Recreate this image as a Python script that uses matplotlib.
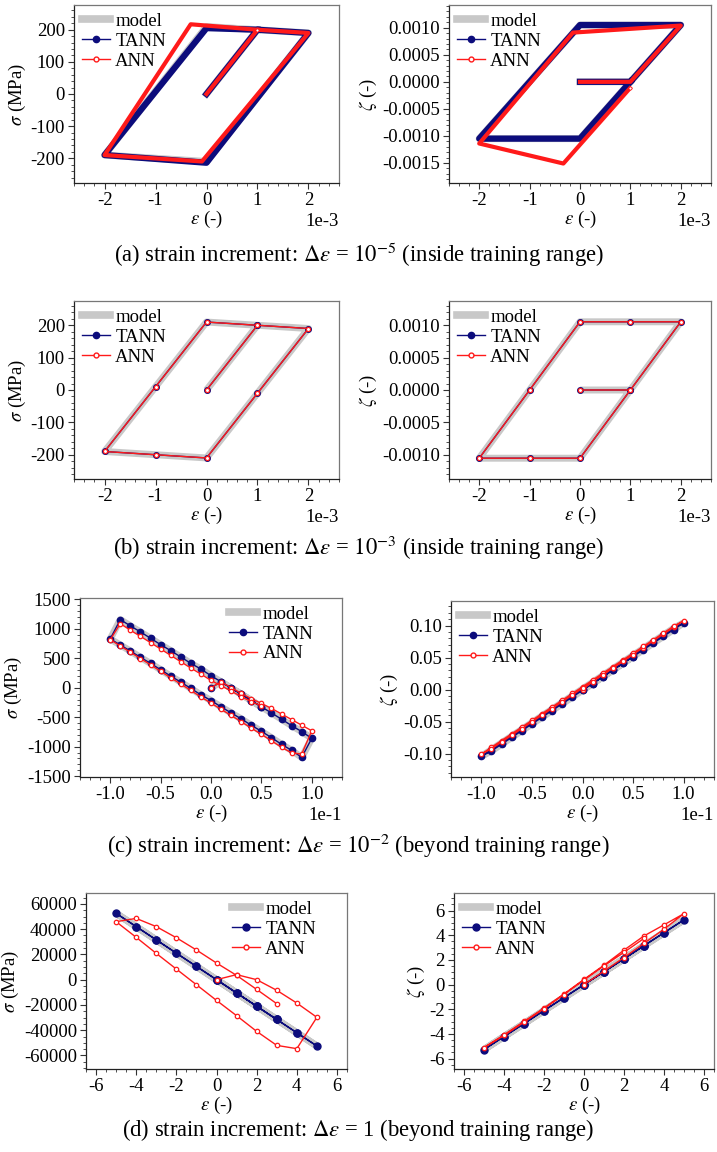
import matplotlib
matplotlib.use('Agg')
import matplotlib.pyplot as plt
from matplotlib.lines import Line2D
from matplotlib.ticker import AutoMinorLocator, MultipleLocator

plt.rcParams['font.family'] = ['Liberation Serif', 'DejaVu Serif']
plt.rcParams['mathtext.fontset'] = 'stix'
plt.rcParams['axes.unicode_minus'] = False

# ---------------- (a) strain increment 1e-5 (path vertices) ----------------
a_eps_model = [0, 1e-3, 2e-3, 1e-3, 0, -1e-3, -2e-3, -1e-3, 0, 1e-3]
a_sig_model = [0, 200, 190, -10, -210, -200, -190, 10, 210, 200]
a_zet_model = [0, 0, 1.05e-3, 1.05e-3, 1.05e-3, 0, -1.05e-3, -1.05e-3, -1.05e-3, 0]

a_eps_tann = [0, 1e-3, 2e-3, 0, -2e-3, 0, 1e-3]
a_sig_tann = [0, 200, 190, -214, -190, 205, 200]
a_eps_tann_z = [0, 1e-3, 2e-3, 0, -2e-3, 0, 1e-3]
a_zet_tann = [0, 0, 1.05e-3, 1.05e-3, -1.05e-3, -1.05e-3, 0]

a_eps_ann = [0, 1e-3, 2e-3, -0.09e-3, -2e-3, -0.31e-3, 1e-3]
a_sig_ann = [0, 200, 190, -210, -190, 217, 200]
a_eps_ann_z = [0, 1e-3, 2e-3, -0.14e-3, -2e-3, -0.33e-3, 0.99e-3]
a_zet_ann = [0, 0, 1.04e-3, 0.91e-3, -1.14e-3, -1.51e-3, -0.12e-3]

# ---------------- (b) strain increment 1e-3 ----------------
b_eps = [0, 1e-3, 2e-3, 1e-3, 0, -1e-3, -2e-3, -1e-3, 0, 1e-3]
b_sig_model = [0, 200, 190, -10, -210, -200, -190, 10, 210, 200]
b_sig_tann = [0, 200, 190, -10, -210, -200, -190, 10, 210, 200]
b_sig_ann = [0, 200, 190, -10, -210, -200, -190, 10, 210, 200]
b_zet_model = [0, 0, 1.05e-3, 1.05e-3, 1.05e-3, 0, -1.05e-3, -1.05e-3, -1.05e-3, 0]
b_zet_tann = [0, 0, 1.05e-3, 1.05e-3, 1.05e-3, 0, -1.05e-3, -1.05e-3, -1.05e-3, 0]
b_zet_ann = [0, 0, 1.05e-3, 1.05e-3, 1.05e-3, 0, -1.05e-3, -1.05e-3, -1.05e-3, 0]

# ---------------- (c) strain increment 1e-2 ----------------
c_eps = [0.00, 0.01, 0.02, 0.03, 0.04, 0.05, 0.06, 0.07, 0.08, 0.09, 0.10,
         0.09, 0.08, 0.07, 0.06, 0.05, 0.04, 0.03, 0.02, 0.01, 0.00,
         -0.01, -0.02, -0.03, -0.04, -0.05, -0.06, -0.07, -0.08, -0.09, -0.10,
         -0.09, -0.08, -0.07, -0.06, -0.05, -0.04, -0.03, -0.02, -0.01, 0.00,
         0.01, 0.02, 0.03, 0.04, 0.05]
c_sig_model = [0, 102, -6, -108, -216, -324, -426, -534, -642, -744, -858,
               -1182, -1062, -960, -847, -739, -636, -528, -426, -324, -216,
               -119, -11, 97, 199, 307, 415, 517, 625, 727, 830,
               1159, 1051, 949, 841, 733, 631, 523, 415, 318, 205,
               102, -6, -108, -216, -324]
c_sig_tann = [0, 102, -6, -108, -216, -324, -426, -534, -642, -744, -858,
              -1182, -1062, -960, -847, -739, -636, -528, -426, -324, -216,
              -119, -11, 97, 199, 307, 415, 517, 625, 727, 830,
              1159, 1051, 949, 841, 733, 631, 523, 415, 318, 205,
              102, -6, -108, -216, -324]
c_sig_ann = [0, 100, 5, -95, -185, -265, -350, -445, -540, -635, -730,
             -1125, -1105, -1010, -900, -790, -685, -575, -470, -365, -260,
             -155, -45, 65, 170, 280, 392, 497, 605, 710, 818,
             1090, 977, 874, 767, 659, 551, 443, 335, 233, 125,
             35, -55, -150, -235, -310]
c_zet_model = [0, 0.0095, 0.0200, 0.0305, 0.0411, 0.0516, 0.0621, 0.0727, 0.0832, 0.0937, 0.1043,
               0.0959, 0.0853, 0.0748, 0.0642, 0.0537, 0.0432, 0.0326, 0.0221, 0.0116, 0.0011,
               -0.0094, -0.0199, -0.0305, -0.0410, -0.0515, -0.0621, -0.0726, -0.0831, -0.0936, -0.1042,
               -0.0958, -0.0853, -0.0747, -0.0642, -0.0537, -0.0432, -0.0326, -0.0221, -0.0116, -0.0010,
               0.0095, 0.0200, 0.0305, 0.0411, 0.0516]
c_zet_tann = [0, 0.0095, 0.0200, 0.0305, 0.0411, 0.0516, 0.0621, 0.0727, 0.0832, 0.0937, 0.1043,
              0.0959, 0.0853, 0.0748, 0.0642, 0.0537, 0.0432, 0.0326, 0.0221, 0.0116, 0.0011,
              -0.0094, -0.0199, -0.0305, -0.0410, -0.0515, -0.0621, -0.0726, -0.0831, -0.0936, -0.1042,
              -0.0958, -0.0853, -0.0747, -0.0642, -0.0537, -0.0432, -0.0326, -0.0221, -0.0116, -0.0010,
              0.0095, 0.0200, 0.0305, 0.0411, 0.0516]
c_zet_ann = [0, 0.0125, 0.0235, 0.0340, 0.0446, 0.0551, 0.0656, 0.0762, 0.0867, 0.0972, 0.1078,
             0.0990, 0.0885, 0.0780, 0.0675, 0.0570, 0.0465, 0.0360, 0.0255, 0.0150, 0.0045,
             -0.0060, -0.0165, -0.0270, -0.0375, -0.0480, -0.0585, -0.0690, -0.0795, -0.0900, -0.1008,
             -0.0925, -0.0820, -0.0715, -0.0610, -0.0505, -0.0400, -0.0295, -0.0190, -0.0085, 0.0022,
             0.0127, 0.0232, 0.0337, 0.0442, 0.0547]

# ---------------- (d) strain increment 1 ----------------
d_eps = [0, 1, 2, 3, 4, 5, 4, 3, 2, 1, 0, -1, -2, -3, -4, -5, -4, -3, -2, -1, 0, 1, 2, 3]
d_sig_model = [0, -10500, -21000, -31500, -42000, -52500, -42000, -31500, -21000, -10500, 0,
               10500, 21000, 31500, 42000, 52500, 42000, 31500, 21000, 10500, 0, -10500, -21000, -31500]
d_sig_tann = [0, -10500, -21000, -31500, -42000, -52500, -42000, -31500, -21000, -10500, 0,
              10500, 21000, 31500, 42000, 52500, 42000, 31500, 21000, 10500, 0, -10500, -21000, -31500]
d_sig_ann = [0, 4000, 0, -8400, -18500, -29800, -54600, -52000, -40900, -28500, -16400,
             -4000, 8400, 20800, 33500, 45900, 48500, 42000, 33200, 23500, 13200, 3400, -7700, -19000]
d_zet_model = [0, 1.05, 2.1, 3.16, 4.21, 5.26, 4.21, 3.16, 2.1, 1.05, 0, -1.05, -2.1, -3.16, -4.21,
               -5.26, -4.21, -3.16, -2.1, -1.05, 0, 1.05, 2.1, 3.16]
d_zet_tann = [0, 1.05, 2.1, 3.16, 4.21, 5.26, 4.21, 3.16, 2.1, 1.05, 0, -1.05, -2.1, -3.16, -4.21,
              -5.26, -4.21, -3.16, -2.1, -1.05, 0, 1.05, 2.1, 3.16]
d_zet_ann = [0, 1.1, 2.2, 3.35, 4.5, 5.76, 4.85, 3.95, 2.8, 1.58, 0.43, -0.75, -1.9, -2.98, -4.07,
             -5.1, -4.12, -3.05, -1.95, -0.8, 0.38, 1.52, 2.62, 3.75]

captions = [
    r'(a) strain increment: $\Delta\varepsilon$ = $10^{-5}$ (inside training range)',
    r'(b) strain increment: $\Delta\varepsilon$ = $10^{-3}$ (inside training range)',
    r'(c) strain increment: $\Delta\varepsilon$ = $10^{-2}$ (beyond training range)',
    r'(d) strain increment: $\Delta\varepsilon$ = 1 (beyond training range)',
]

GRAY = '#c8c8c8'
NAVY = '#0c0c7c'
RED = '#ff1a1a'
FS = 13.5
CAP_FS = 16.3

W, H = 717, 1152
fig = plt.figure(figsize=(W / 100, H / 100), dpi=100)


def add_ax(x0, x1, ytop, ybot):
    return fig.add_axes([x0 / W, 1 - ybot / H, (x1 - x0) / W, (ybot - ytop) / H])


def style(ax, xlim, ylim, xstep, ystep, ylabel, sci_x=False):
    ax.set_xlim(*xlim)
    ax.set_ylim(*ylim)
    ax.xaxis.set_major_locator(MultipleLocator(xstep))
    ax.yaxis.set_major_locator(MultipleLocator(ystep))
    ax.xaxis.set_minor_locator(AutoMinorLocator())
    ax.yaxis.set_minor_locator(AutoMinorLocator())
    if sci_x:
        ax.ticklabel_format(axis='x', style='sci', scilimits=(0, 0))
    ax.xaxis.get_offset_text().set_fontsize(FS)
    ax.tick_params(which='both', direction='out', top=False, right=False,
                   labelsize=FS, color='#333333', pad=2.5)
    ax.tick_params(which='major', length=4, width=0.8)
    ax.tick_params(which='minor', length=2.2, width=0.6)
    for s in ['left', 'bottom']:
        ax.spines[s].set_color('#222222')
        ax.spines[s].set_linewidth(0.9)
    for s in ['top', 'right']:
        ax.spines[s].set_color('#777777')
        ax.spines[s].set_linewidth(0.9)
    ax.set_xlabel(r'$\varepsilon$ (-)', fontsize=FS, labelpad=0)
    ax.set_ylabel(ylabel, fontsize=FS, labelpad=2)


def legend(ax, loc, anchor=None, ms_t=4.5, ms_a=3.5):
    handles = [
        Line2D([], [], color=GRAY, lw=5.5),
        Line2D([], [], color=NAVY, lw=1.0, marker='o', ms=ms_t),
        Line2D([], [], color=RED, lw=1.0, marker='o', ms=ms_a, mfc='white', mec=RED),
    ]
    kw = dict(loc=loc, frameon=False, fontsize=FS, handlelength=1.5,
              handletextpad=0.3, labelspacing=0.15, borderaxespad=0.2, borderpad=0.2)
    if anchor is not None:
        kw['bbox_to_anchor'] = anchor
    ax.legend(handles, ['model', 'TANN', 'ANN'], **kw)


def plot_series(ax, x_m, y_m, x_t, y_t, x_a, y_a, ms_t=4.5, ms_a=3.5, lw_m=5):
    ax.plot(x_m, y_m, color=GRAY, lw=lw_m, solid_capstyle='butt', zorder=1)
    ax.plot(x_t, y_t, color=NAVY, lw=1.0, marker='o', ms=ms_t, zorder=2)
    ax.plot(x_a, y_a, color=RED, lw=1.0, marker='o', ms=ms_a, mfc='white', mec=RED,
            mew=0.9, zorder=3)


# ---- row (a): dense increments drawn as thick bands ----
ax = add_ax(74, 339, 5, 183)
ax.plot(a_eps_model, a_sig_model, color=GRAY, lw=5, zorder=1)
ax.plot(a_eps_tann, a_sig_tann, color=NAVY, lw=4.5, zorder=2, solid_joinstyle='round')
ax.plot(a_eps_ann, a_sig_ann, color=RED, lw=3.0, zorder=3, solid_joinstyle='round')
ax.plot(a_eps_ann[-1:], a_sig_ann[-1:], 'o', ms=2.2, mfc='white', mec=RED, mew=0.6, zorder=4)
style(ax, (-2.6e-3, 2.6e-3), (-277, 277), 1e-3, 100, r'$\sigma$ (MPa)', sci_x=True)
legend(ax, 'upper left')

ax = add_ax(449, 711, 5, 183)
ax.plot(a_eps_model, a_zet_model, color=GRAY, lw=5, zorder=1)
ax.plot(a_eps_tann_z, a_zet_tann, color=NAVY, lw=4.5, zorder=2, solid_joinstyle='round')
ax.plot(a_eps_ann_z, a_zet_ann, color=RED, lw=3.0, zorder=3, solid_joinstyle='round')
ax.plot(a_eps_ann_z[-1:], a_zet_ann[-1:], 'o', ms=2.2, mfc='white', mec=RED, mew=0.6, zorder=4)
style(ax, (-2.6e-3, 2.6e-3), (-1.87e-3, 1.42e-3), 1e-3, 0.0005, r'$\zeta$ (-)', sci_x=True)
legend(ax, 'upper left')

# ---- row (b) ----
ax = add_ax(74, 339, 301, 479)
plot_series(ax, b_eps, b_sig_model, b_eps, b_sig_tann, b_eps, b_sig_ann, ms_t=4.0, ms_a=3.0)
style(ax, (-2.6e-3, 2.6e-3), (-275, 275), 1e-3, 100, r'$\sigma$ (MPa)', sci_x=True)
legend(ax, 'upper left')

ax = add_ax(449, 711, 301, 479)
plot_series(ax, b_eps, b_zet_model, b_eps, b_zet_tann, b_eps, b_zet_ann, ms_t=4.0, ms_a=3.0)
style(ax, (-2.6e-3, 2.6e-3), (-1.37e-3, 1.37e-3), 1e-3, 0.0005, r'$\zeta$ (-)', sci_x=True)
legend(ax, 'upper left')

# ---- row (c) ----
ax = add_ax(80, 342, 598, 777)
plot_series(ax, c_eps, c_sig_model, c_eps, c_sig_tann, c_eps, c_sig_ann, ms_t=4.5, ms_a=3.2)
style(ax, (-0.13, 0.13), (-1515, 1525), 0.05, 500, r'$\sigma$ (MPa)', sci_x=True)
legend(ax, 'upper right', anchor=(0.92, 1.0))

ax = add_ax(451, 714, 601, 777)
plot_series(ax, c_eps, c_zet_model, c_eps, c_zet_tann, c_eps, c_zet_ann, ms_t=4.5, ms_a=3.2)
style(ax, (-0.13, 0.13), (-0.1365, 0.1385), 0.05, 0.05, r'$\zeta$ (-)', sci_x=True)
legend(ax, 'upper left')

# ---- row (d) ----
ax = add_ax(86, 347, 893, 1069)
plot_series(ax, d_eps, d_sig_model, d_eps, d_sig_tann, d_eps, d_sig_ann, ms_t=5.0, ms_a=3.2)
style(ax, (-6.5, 6.5), (-70700, 68600), 2, 20000, r'$\sigma$ (MPa)')
legend(ax, 'upper right', anchor=(0.91, 1.0), ms_t=5.0)

ax = add_ax(454, 714, 893, 1069)
plot_series(ax, d_eps, d_zet_model, d_eps, d_zet_tann, d_eps, d_zet_ann, ms_t=5.0, ms_a=3.2)
style(ax, (-6.5, 6.5), (-6.84, 7.43), 2, 2, r'$\zeta$ (-)')
legend(ax, 'upper left', ms_t=5.0)

for cap, yc in zip(captions, [255, 548, 846, 1130]):
    fig.text(0.5, 1 - yc / H, cap, ha='center', va='center', fontsize=CAP_FS)

fig.savefig('out.png', dpi=100)
